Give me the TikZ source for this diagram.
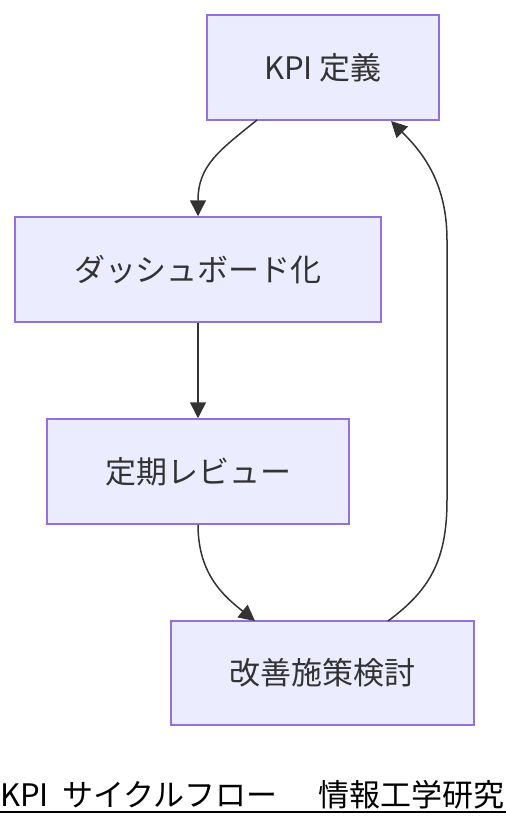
\documentclass[tikz,border=0pt]{standalone}
\usepackage{fontspec}
\setmainfont{Noto Sans CJK JP}
\usetikzlibrary{arrows.meta}
\definecolor{boxline}{HTML}{9370DB}
\definecolor{boxfill}{HTML}{ECECFF}
\definecolor{ink}{HTML}{333333}
\begin{document}
\begin{tikzpicture}[x=1pt, y=-1pt,
  box/.style={draw=boxline, fill=boxfill, line width=1.5pt, text=ink,
   inner sep=0pt, minimum height=105pt, font=\fontsize{31}{37}\selectfont},
  flow/.style={draw=ink, line width=1.5pt, -{Triangle[length=16pt,width=16pt]}},
  caption/.style={inner sep=0pt, anchor=base west, font=\fontsize{31}{37}\selectfont}]
 \useasboundingbox (0,0) rectangle (506,828);
 % boxes
 \node[box, minimum width=232pt] (kpi) at (323,67.5) {KPI 定義};
 \node[box, minimum width=366pt] (dash) at (198,269.5) {ダッシュボード化};
 \node[box, minimum width=302pt] (review) at (198,471.5) {定期レビュー};
 \node[box, minimum width=303pt, minimum height=104pt] (improve) at (322.5,673) {改善施策検討};
 % connectors
 \coordinate (kpiout) at (257,120);
 \coordinate (kpiin) at (391,121);
 \coordinate (improvein) at (255,621);
 \coordinate (improveout) at (388,621);
 \draw[flow] (kpiout) .. controls (220,150) and (198,165) .. (dash.north);
 \draw[flow] (dash.south) -- (review.north);
 \draw[flow] (review.south) .. controls (198,575) and (225,597) .. (improvein);
 \draw[flow] (improveout) .. controls (430,590) and (447,560) .. (447,500)
  -- (447,240) .. controls (447,180) and (420,150) .. (kpiin);
 % caption
 \node[caption] (capkpi) at (0,806) {KPI};
 \node[caption] (capflow) at (62,806) {サイクルフロー};
 \node[caption] (caplab) at (318,806) {情報工学研究};
 \draw[line width=2pt] (0,812) -- (506,812);
\end{tikzpicture}
\end{document}
